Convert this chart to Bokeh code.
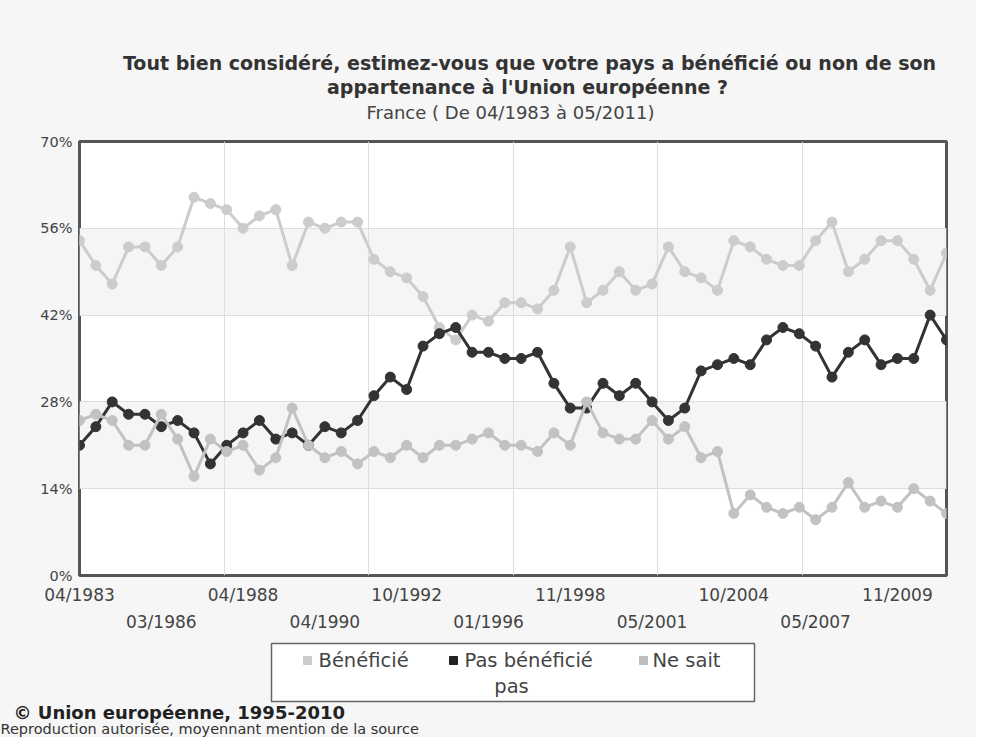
from bokeh.plotting import figure
from bokeh.models import Range1d, FixedTicker, LinearAxis, Grid, PrintfTickFormatter
from bokeh.layouts import column
from bokeh.core.properties import value
from bokeh.embed import file_html
from bokeh.resources import INLINE

# ---- data (Eurobarometer waves, France, 04/1983 -> 05/2011) ----
beneficie = [54, 50, 47, 53, 53, 50, 53, 61, 60, 59, 56, 58, 59, 50, 57, 56, 57, 57,
             51, 49, 48, 45, 40, 38, 42, 41, 44, 44, 43, 46, 53, 44, 46, 49, 46, 47,
             53, 49, 48, 46, 54, 53, 51, 50, 50, 54, 57, 49, 51, 54, 54, 51, 46, 52]
pas_beneficie = [21, 24, 28, 26, 26, 24, 25, 23, 18, 21, 23, 25, 22, 23, 21, 24, 23, 25,
                 29, 32, 30, 37, 39, 40, 36, 36, 35, 35, 36, 31, 27, 27, 31, 29, 31, 28,
                 25, 27, 33, 34, 35, 34, 38, 40, 39, 37, 32, 36, 38, 34, 35, 35, 42, 38]
ne_sait_pas = [25, 26, 25, 21, 21, 26, 22, 16, 22, 20, 21, 17, 19, 27, 21, 19, 20, 18,
               20, 19, 21, 19, 21, 21, 22, 23, 21, 21, 20, 23, 21, 28, 23, 22, 22, 25,
               22, 24, 19, 20, 10, 13, 11, 10, 11, 9, 11, 15, 11, 12, 11, 14, 12, 10]
series_names = ["Bénéficié", "Pas bénéficié", "Ne sait pas"]
tick_labels = ["04/1983", "03/1986", "04/1988", "04/1990", "10/1992", "01/1996",
               "11/1998", "05/2001", "10/2004", "05/2007", "11/2009"]
y_ticks = [0, 14, 28, 42, 56, 70]

title_1 = "Tout bien considéré, estimez-vous que votre pays a bénéficié ou non de son"
title_2 = "appartenance à l'Union européenne ?"
subtitle = "France ( De 04/1983 à 05/2011)"
footer_1 = "© Union européenne, 1995-2010"
footer_2 = "Reproduction autorisée, moyennant mention de la source"

# ---- style ----
FONT = "DejaVu Sans"
BG = "#f6f6f6"
line_colors = ["#cccccc", "#333333", "#c2c2c2"]
legend_colors = ["#cccccc", "#222222", "#bdbdbd"]
W = 976


def panel(h, y0):
    """A plain figure whose data coordinates equal picture pixels (y downward)."""
    f = figure(width=W, height=h, x_range=Range1d(0, W), y_range=Range1d(y0 + h, y0),
               output_backend="svg", toolbar_location=None, x_axis_type=None,
               y_axis_type=None, min_border=0, background_fill_color=BG,
               border_fill_color=BG)
    f.outline_line_color = None
    return f


# ---- title block (picture pixels 0..130) ----
t = panel(130, 0)
t.text(x=[529, 527], y=[62, 86], text=[title_1, title_2], text_align="center",
       text_baseline="middle", text_font=value(FONT), text_font_size="19px",
       text_font_style="bold", text_color="#333333")
t.text(x=[510], y=[112], text=[subtitle], text_align="center", text_baseline="middle",
       text_font=value(FONT), text_font_size="18px", text_color="#444444")

# ---- chart (picture pixels 130..640) ----
waves = list(range(len(beneficie)))
n = len(waves) - 1

p = figure(width=W, height=510, x_range=Range1d(0, n), y_range=Range1d(0, 70),
           output_backend="svg", toolbar_location=None, x_axis_type=None,
           min_border_left=79, min_border_right=30, min_border_top=11, min_border_bottom=65,
           background_fill_color="white", border_fill_color=BG)
p.outline_line_color = "#555555"
p.outline_line_width = 3

p.yaxis.ticker = FixedTicker(ticks=y_ticks)
p.yaxis.formatter = PrintfTickFormatter(format="%d%%")
p.yaxis.axis_line_color = None
p.yaxis.major_tick_line_color = None
p.yaxis.major_tick_out = 0
p.yaxis.minor_tick_line_color = None
p.yaxis.major_label_standoff = 7
p.yaxis.major_label_text_font = FONT
p.yaxis.major_label_text_font_size = "14.5px"
p.yaxis.major_label_text_color = "#444444"

p.ygrid.grid_line_color = "#dddddd"
p.ygrid.band_fill_color = "#f5f5f5"
p.ygrid.band_fill_alpha = 1

# vertical division lines (5 evenly spaced)
p.add_layout(Grid(dimension=0, ticker=FixedTicker(ticks=[n * k / 6 for k in range(1, 6)]),
                  grid_line_color="#dddddd"))

# x axes: two staggered rows of labels
pos = [5 * i for i in range(len(tick_labels))]
row1 = [(x, s) for i, (x, s) in enumerate(zip(pos, tick_labels)) if i % 2 == 0]
row2 = [(x, s) for i, (x, s) in enumerate(zip(pos, tick_labels)) if i % 2 == 1]
for row, standoff in ((row1, 9), (row2, 4)):
    ax = LinearAxis(ticker=FixedTicker(ticks=[x for x, _ in row]),
                    major_label_overrides={x: s for x, s in row})
    ax.axis_line_color = None
    ax.major_tick_line_color = None
    ax.major_tick_out = 0
    ax.minor_tick_line_color = None
    ax.major_label_standoff = standoff
    ax.major_label_text_font = FONT
    ax.major_label_text_font_size = "17px"
    ax.major_label_text_color = "#444444"
    p.add_layout(ax, "below")

for vals, c in zip([beneficie, pas_beneficie, ne_sait_pas], line_colors):
    p.line(waves, vals, line_color=c, line_width=3)
    p.scatter(waves, vals, size=10, fill_color=c, line_color=c)

# ---- legend + footer (picture pixels 640..737) ----
q = panel(97, 640)
for fig in (t, p, q):
    try:
        fig.frame_align = False
    except AttributeError:
        pass
q.quad(left=[271], right=[754], top=[643], bottom=[701], fill_color="white",
       line_color="#666666", line_width=1.5)
leg_first = series_names[:2] + [series_names[2].rsplit(" ", 1)[0]]
leg_rest = series_names[2].rsplit(" ", 1)[1]
q.scatter(x=[307, 453, 643], y=[660, 660, 660], marker="square", size=8,
          fill_color=legend_colors, line_color=legend_colors)
q.text(x=[318, 464, 652], y=[660, 660, 660], text=leg_first, text_baseline="middle",
       text_align="left", text_font=value(FONT), text_font_size="19.5px", text_color="#444444")
q.text(x=[511], y=[686], text=[leg_rest], text_baseline="middle", text_align="center",
       text_font=value(FONT), text_font_size="19.5px", text_color="#444444")
q.text(x=[13], y=[712], text=[footer_1], text_baseline="middle", text_align="left",
       text_font=value(FONT), text_font_size="18px", text_font_style="bold", text_color="#222222")
q.text(x=[0], y=[728], text=[footer_2], text_baseline="middle", text_align="left",
       text_font=value(FONT), text_font_size="14.5px", text_color="#333333")

layout = column(t, p, q, spacing=0)
try:
    layout.styles = {"background-color": BG}
except Exception:
    pass
open("out.html", "w").write(file_html(layout, INLINE))
